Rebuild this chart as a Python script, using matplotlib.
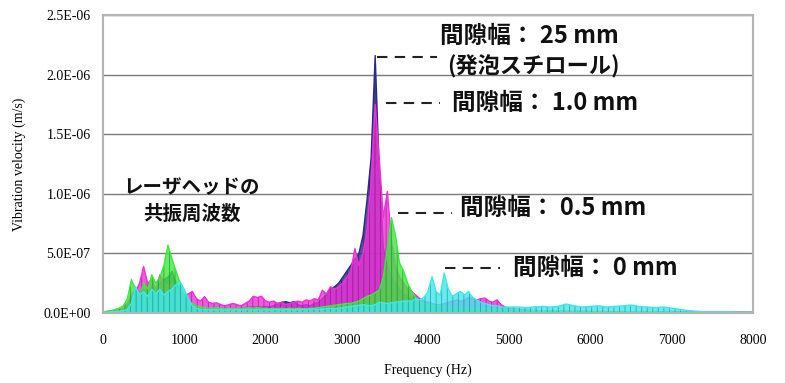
import numpy as np
import matplotlib.pyplot as plt

# frequency grid (Hz): 50 Hz steps up to 5000, then 100 Hz steps
freq = np.concatenate([np.arange(0, 5001, 50), np.arange(5100, 8001, 100)])

# vibration velocity, units of 1e-7 m/s
gap_25mm = [
    0.1, 0.1, 0.15, 0.2, 0.2, 0.3, 0.5, 1.5, 2.0, 1.2,
    2.0, 1.5, 2.2, 2.0, 2.5, 2.8, 3.0, 3.5, 2.5, 1.8,
    1.2, 0.8, 0.6, 0.5, 0.4, 0.4, 0.35, 0.3, 0.3, 0.3,
    0.35, 0.3, 0.35, 0.3, 0.35, 0.4, 0.5, 0.5, 0.5, 0.5,
    0.55, 0.5, 0.6, 0.8, 0.9, 0.95, 0.85, 0.95, 0.7, 0.6,
    0.7, 0.6, 0.8, 0.9, 1.2, 1.5, 2.0, 2.2, 2.5, 3.0,
    3.5, 4.0, 4.5, 5.0, 6.5, 9.5, 13.0, 21.6, 12.0, 5.5,
    4.0, 3.0, 2.5, 2.0, 1.6, 1.4, 1.2, 1.0, 0.8, 0.7,
    0.6, 0.5, 0.5, 0.45, 0.45, 0.4, 0.4, 0.4, 0.35, 0.35,
    0.4, 0.35, 0.3, 0.3, 0.3, 0.25, 0.25, 0.2, 0.2, 0.2,
    0.2,
    0.15, 0.15, 0.15, 0.15, 0.12, 0.12, 0.12, 0.1, 0.1, 0.1,
    0.1, 0.1, 0.1, 0.1, 0.1, 0.08, 0.08, 0.08, 0.08, 0.08,
    0.08, 0.06, 0.06, 0.06, 0.06, 0.05, 0.05, 0.05, 0.05, 0.05,
]
gap_10mm = [
    0.1, 0.1, 0.15, 0.2, 0.3, 0.4, 0.8, 1.5, 1.8, 2.5,
    3.9, 2.5, 2.8, 2.0, 3.2, 2.6, 2.2, 2.6, 2.0, 1.8,
    1.5, 1.6, 1.8, 1.2, 1.0, 1.37, 0.9, 0.8, 0.85, 0.7,
    0.6, 0.7, 0.8, 0.7, 0.6, 0.8, 1.0, 1.4, 1.3, 1.4,
    1.0, 0.9, 1.0, 0.8, 0.9, 0.7, 0.8, 0.9, 1.0, 0.9,
    1.1, 1.0, 1.2, 1.1, 1.9, 1.6, 2.2, 2.0, 2.2, 2.5,
    3.0, 3.5, 5.4, 4.0, 5.0, 7.0, 11.0, 17.5, 13.0, 8.0,
    10.2, 6.0, 4.0, 3.0, 2.5, 2.0, 1.8, 1.5, 1.2, 1.0,
    0.9, 0.8, 0.7, 0.7, 0.8, 0.9, 1.0, 1.1, 1.0, 1.1,
    1.3, 1.2, 1.1, 1.2, 1.25, 1.0, 0.9, 1.1, 0.7, 0.5,
    0.4,
    0.3, 0.25, 0.2, 0.2, 0.15, 0.15, 0.15, 0.12, 0.12, 0.12,
    0.1, 0.1, 0.1, 0.1, 0.1, 0.1, 0.08, 0.08, 0.08, 0.08,
    0.08, 0.06, 0.06, 0.06, 0.06, 0.05, 0.05, 0.05, 0.05, 0.05,
]
gap_05mm = [
    0.1, 0.15, 0.2, 0.3, 0.4, 0.6, 1.2, 2.8, 2.0, 1.5,
    2.5, 2.0, 3.2, 2.5, 3.0, 4.0, 5.7, 4.5, 3.5, 2.5,
    1.5, 1.0, 0.8, 0.6, 0.5, 0.45, 0.4, 0.4, 0.45, 0.4,
    0.35, 0.4, 0.35, 0.4, 0.35, 0.4, 0.45, 0.4, 0.45, 0.4,
    0.4, 0.35, 0.4, 0.35, 0.4, 0.35, 0.4, 0.35, 0.4, 0.35,
    0.35, 0.4, 0.4, 0.45, 0.5, 0.55, 0.6, 0.65, 0.7, 0.75,
    0.8, 0.8, 0.9, 1.0, 1.2, 1.4, 1.5, 1.7, 1.9, 3.0,
    5.5, 8.0, 6.5, 4.2, 3.5, 2.5, 1.8, 1.3, 1.0, 0.8,
    0.7, 0.6, 0.6, 0.6, 0.5, 0.5, 0.45, 0.45, 0.4, 0.4,
    0.4, 0.4, 0.35, 0.35, 0.35, 0.35, 0.3, 0.3, 0.3, 0.3,
    0.3,
    0.25, 0.2, 0.2, 0.2, 0.18, 0.18, 0.15, 0.15, 0.15, 0.15,
    0.12, 0.12, 0.12, 0.12, 0.1, 0.1, 0.1, 0.1, 0.08, 0.08,
    0.08, 0.06, 0.06, 0.06, 0.06, 0.05, 0.05, 0.05, 0.05, 0.05,
]
gap_0mm = [
    0.05, 0.05, 0.1, 0.1, 0.15, 0.2, 0.3, 0.8, 2.2, 1.5,
    1.8, 1.4, 2.0, 1.6, 2.0, 1.5, 1.8, 2.0, 2.4, 2.6,
    2.0, 1.2, 0.6, 0.4, 0.3, 0.3, 0.25, 0.3, 0.25, 0.3,
    0.25, 0.3, 0.25, 0.3, 0.25, 0.3, 0.3, 0.25, 0.3, 0.25,
    0.3, 0.25, 0.3, 0.3, 0.25, 0.3, 0.3, 0.25, 0.3, 0.3,
    0.3, 0.3, 0.35, 0.3, 0.35, 0.35, 0.4, 0.35, 0.4, 0.45,
    0.5, 0.55, 0.6, 0.65, 0.7, 0.65, 0.6, 0.7, 0.9, 0.85,
    0.8, 0.85, 0.9, 0.95, 1.0, 1.0, 1.0, 1.2, 1.1, 1.3,
    1.8, 3.05, 1.8, 1.5, 3.35, 2.0, 1.4, 1.6, 1.8, 1.5,
    1.8, 1.3, 1.1, 0.9, 0.8, 0.7, 0.6, 0.6, 0.5, 0.5,
    0.5,
    0.5, 0.45, 0.5, 0.55, 0.5, 0.55, 0.75, 0.6, 0.5, 0.55,
    0.6, 0.5, 0.55, 0.6, 0.67, 0.55, 0.5, 0.45, 0.5, 0.4,
    0.3, 0.2, 0.15, 0.1, 0.1, 0.1, 0.1, 0.05, 0.05, 0.05,
]

series = [
    (gap_25mm, '#2a2a8a', '#15154a'),
    (gap_10mm, '#f030d8', '#a01890'),
    (gap_05mm, '#40e840', '#1f9a1f'),
    (gap_0mm, '#40e8ec', '#1a9ca0'),
]

yticks = [0, 5e-7, 1e-6, 1.5e-6, 2e-6, 2.5e-6]
ytick_labels = ['0.0E+00', '5.0E-07', '1.0E-06', '1.5E-06', '2.0E-06', '2.5E-06']
xticks = [0, 1000, 2000, 3000, 4000, 5000, 6000, 7000, 8000]

plt.rcParams['hatch.linewidth'] = 0.6

fig = plt.figure(figsize=(7.85, 3.83), dpi=100)
ax = fig.add_axes([0.1312, 0.1828, 0.828, 0.778])

for vals, col, dark in series:
    v = np.array(vals) * 1e-7
    ax.fill_between(freq, 0, v, facecolor=col, edgecolor=dark, hatch='|||',
                    linewidth=0, alpha=0.8, zorder=2)
    ax.plot(freq, v, color=col, lw=1.0, zorder=2)

ax.set_xlim(0, 8000)
ax.set_ylim(0, 2.5e-6)
ax.set_xticks(xticks)
ax.set_xticklabels([str(t) for t in xticks])
ax.set_yticks(yticks)
ax.set_yticklabels(ytick_labels)
ax.grid(axis='y', color='#7a7a7a', lw=1.0, zorder=1)
ax.tick_params(length=0, labelsize=10)
ax.tick_params(axis='x', pad=15)
ax.tick_params(axis='y', pad=9)
for lab in ax.get_xticklabels() + ax.get_yticklabels():
    lab.set_family('Liberation Serif')
for sp in ax.spines.values():
    sp.set_color('#b4b4b4')
    sp.set_linewidth(1.5)

ax.set_xlabel('Frequency (Hz)', family='Liberation Serif', fontsize=10, labelpad=12)
ax.set_ylabel('Vibration velocity (m/s)', family='Liberation Serif', fontsize=10, labelpad=12)

jp = dict(family=['Noto Sans CJK JP', 'DejaVu Sans'], fontweight='bold', color='#111111')
dash = dict(color='#222222', lw=1.5, ls=(0, (5, 3.5)), zorder=3)

# labels for each gap width, with dashed leaders from the peaks
ax.plot([3372, 4111], [2.15e-6, 2.15e-6], **dash)
ax.text(4148, 2.32e-6, '間隙幅： 25 mm', fontsize=17, va='center', **jp)
ax.text(4234, 2.07e-6, '(発泡スチロール)', fontsize=16, va='center', **jp)

ax.plot([3483, 4148], [1.76e-6, 1.76e-6], **dash)
ax.text(4295, 1.76e-6, '間隙幅： 1.0 mm', fontsize=17, va='center', **jp)

ax.plot([3631, 4295], [8.4e-7, 8.4e-7], **dash)
ax.text(4394, 8.8e-7, '間隙幅： 0.5 mm', fontsize=17, va='center', **jp)

ax.plot([4209, 4886], [3.78e-7, 3.78e-7], **dash)
ax.text(5046, 3.8e-7, '間隙幅： 0 mm', fontsize=17, va='center', **jp)

ax.text(1095, 9.4e-7, 'レーザヘッドの\n共振周波数', fontsize=14, ha='center',
        va='center', linespacing=1.45, **jp)

fig.savefig('out.png', dpi=100)
